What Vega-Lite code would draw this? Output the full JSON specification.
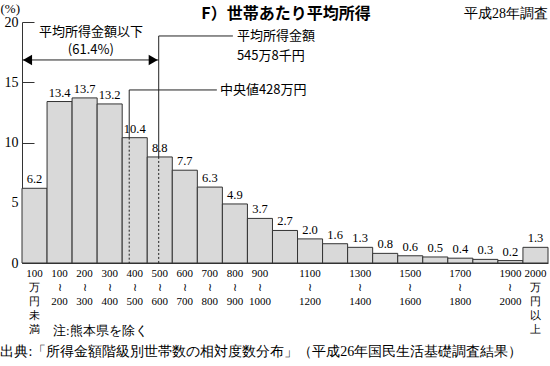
{
  "$schema": "https://vega.github.io/schema/vega-lite/v6.json",
  "width": 526,
  "height": 241,
  "autosize": {"type": "none"},
  "padding": {"left": 22, "top": 22, "right": 2, "bottom": 103},
  "background": "white",
  "config": {"view": {"stroke": null}, "text": {"lineBreak": "\n"}},
  "datasets": {
    "bars": [
      {"lo": 0, "hi": 100, "mid": 50, "v": 6.2, "lab": "100\n万\n円\n未\n満"},
      {"lo": 100, "hi": 200, "mid": 150, "v": 13.4, "lab": "100\n≀\n200"},
      {"lo": 200, "hi": 300, "mid": 250, "v": 13.7, "lab": "200\n≀\n300"},
      {"lo": 300, "hi": 400, "mid": 350, "v": 13.2, "lab": "300\n≀\n400"},
      {"lo": 400, "hi": 500, "mid": 450, "v": 10.4, "lab": "400\n≀\n500"},
      {"lo": 500, "hi": 600, "mid": 550, "v": 8.8, "lab": "500\n≀\n600"},
      {"lo": 600, "hi": 700, "mid": 650, "v": 7.7, "lab": "600\n≀\n700"},
      {"lo": 700, "hi": 800, "mid": 750, "v": 6.3, "lab": "700\n≀\n800"},
      {"lo": 800, "hi": 900, "mid": 850, "v": 4.9, "lab": "800\n≀\n900"},
      {"lo": 900, "hi": 1000, "mid": 950, "v": 3.7, "lab": "900\n≀\n1000"},
      {"lo": 1000, "hi": 1100, "mid": 1050, "v": 2.7, "lab": ""},
      {"lo": 1100, "hi": 1200, "mid": 1150, "v": 2.0, "lab": "1100\n≀\n1200"},
      {"lo": 1200, "hi": 1300, "mid": 1250, "v": 1.6, "lab": ""},
      {"lo": 1300, "hi": 1400, "mid": 1350, "v": 1.3, "lab": "1300\n≀\n1400"},
      {"lo": 1400, "hi": 1500, "mid": 1450, "v": 0.8, "lab": ""},
      {"lo": 1500, "hi": 1600, "mid": 1550, "v": 0.6, "lab": "1500\n≀\n1600"},
      {"lo": 1600, "hi": 1700, "mid": 1650, "v": 0.5, "lab": ""},
      {"lo": 1700, "hi": 1800, "mid": 1750, "v": 0.4, "lab": "1700\n≀\n1800"},
      {"lo": 1800, "hi": 1900, "mid": 1850, "v": 0.3, "lab": ""},
      {"lo": 1900, "hi": 2000, "mid": 1950, "v": 0.2, "lab": "1900\n≀\n2000"},
      {"lo": 2000, "hi": 2100, "mid": 2050, "v": 1.3, "lab": "2000\n万\n円\n以\n上"}
    ],
    "solid": [
      {"x": 545.8, "x2": 545.8, "y": 18.84, "y2": 8.8},
      {"x": 545.8, "x2": 842, "y": 18.84, "y2": 18.84},
      {"x": 428, "x2": 428, "y": 14.36, "y2": 10.4},
      {"x": 428, "x2": 778, "y": 14.36, "y2": 14.36},
      {"x": 0, "x2": 545.8, "y": 16.85, "y2": 16.85}
    ],
    "dashed": [
      {"x": 545.8, "x2": 545.8, "y": 8.8, "y2": 0},
      {"x": 428, "x2": 428, "y": 10.4, "y2": 0}
    ],
    "notesC": [
      {"x": 275, "y": 19.17, "t": "平均所得金額以下"},
      {"x": 275, "y": 17.69, "t": "(61.4%)"}
    ],
    "notesL": [
      {"x": 858, "y": 18.84, "t": "平均所得金額\n545万8千円"},
      {"x": 790, "y": 14.36, "t": "中央値428万円"}
    ],
    "one": [{}]
  },
  "layer": [
    {
      "data": {"name": "bars"},
      "mark": {"type": "rect", "fill": "#d9d9d9", "stroke": "#333", "strokeWidth": 1},
      "encoding": {
        "x": {"field": "lo", "type": "quantitative",
              "scale": {"domain": [0, 2100], "nice": false, "zero": false},
              "axis": {"labels": false, "ticks": false, "title": null, "grid": false, "domainColor": "#333"}},
        "x2": {"field": "hi"},
        "y": {"field": "v", "type": "quantitative",
              "scale": {"domain": [0, 20], "nice": false},
              "axis": {"values": [0, 5, 10, 15, 20], "grid": false, "title": "(%)",
                       "titleAngle": 0, "titleAlign": "left", "titleBaseline": "middle",
                       "titleX": -22, "titleY": -14, "titleFont": "Liberation Serif",
                       "titleFontSize": 13, "titleFontWeight": "normal", "titleColor": "black",
                       "labelFont": "Liberation Serif", "labelFontSize": 14, "labelColor": "black",
                       "tickSize": -12, "tickColor": "#333", "domainColor": "#333", "labelPadding": 16}},
        "y2": {"datum": 0}
      }
    },
    {
      "data": {"name": "bars"},
      "mark": {"type": "text", "baseline": "bottom", "dy": -2, "font": "Liberation Serif", "fontSize": 12.5, "color": "black"},
      "encoding": {
        "x": {"field": "mid", "type": "quantitative"},
        "y": {"field": "v", "type": "quantitative"},
        "text": {"field": "v", "type": "quantitative", "format": ".1f"}
      }
    },
    {
      "data": {"name": "bars"},
      "mark": {"type": "text", "baseline": "top", "lineHeight": 14, "font": "Liberation Serif", "fontSize": 11, "color": "black"},
      "encoding": {
        "x": {"field": "mid", "type": "quantitative"},
        "y": {"datum": -0.45},
        "text": {"field": "lab"}
      }
    },
    {
      "data": {"name": "solid"},
      "mark": {"type": "rule", "color": "#222", "strokeWidth": 1},
      "encoding": {
        "x": {"field": "x", "type": "quantitative"},
        "x2": {"field": "x2"},
        "y": {"field": "y", "type": "quantitative"},
        "y2": {"field": "y2"}
      }
    },
    {
      "data": {"name": "dashed"},
      "mark": {"type": "rule", "color": "#222", "strokeWidth": 1, "strokeDash": [2, 2]},
      "encoding": {
        "x": {"field": "x", "type": "quantitative"},
        "x2": {"field": "x2"},
        "y": {"field": "y", "type": "quantitative"},
        "y2": {"field": "y2"}
      }
    },
    {
      "data": {"name": "one"},
      "mark": {"type": "point", "shape": "triangle-left", "filled": true, "color": "black", "size": 110, "opacity": 1},
      "encoding": {"x": {"datum": 22}, "y": {"datum": 16.85}}
    },
    {
      "data": {"name": "one"},
      "mark": {"type": "point", "shape": "triangle-right", "filled": true, "color": "black", "size": 110, "opacity": 1},
      "encoding": {"x": {"datum": 523.8}, "y": {"datum": 16.85}}
    },
    {
      "data": {"name": "notesC"},
      "mark": {"type": "text", "align": "center", "baseline": "middle", "font": "Noto Sans CJK JP", "fontSize": 13, "color": "black"},
      "encoding": {
        "x": {"field": "x", "type": "quantitative"},
        "y": {"field": "y", "type": "quantitative"},
        "text": {"field": "t"}
      }
    },
    {
      "data": {"name": "notesL"},
      "mark": {"type": "text", "align": "left", "baseline": "middle", "lineHeight": 20, "font": "Noto Sans CJK JP", "fontSize": 13, "color": "black"},
      "encoding": {
        "x": {"field": "x", "type": "quantitative"},
        "y": {"field": "y", "type": "quantitative"},
        "text": {"field": "t"}
      }
    },
    {
      "data": {"name": "one"},
      "mark": {"type": "text", "align": "center", "baseline": "middle", "font": "Noto Sans CJK JP", "fontSize": 16, "fontWeight": "bold", "color": "black"},
      "encoding": {"x": {"datum": 1054}, "y": {"datum": 20.7}, "text": {"value": "F）世帯あたり平均所得"}}
    },
    {
      "data": {"name": "one"},
      "mark": {"type": "text", "align": "right", "baseline": "middle", "font": "Liberation Serif", "fontSize": 14, "color": "black"},
      "encoding": {"x": {"datum": 2100}, "y": {"datum": 20.7}, "text": {"value": "平成28年調査"}}
    },
    {
      "data": {"name": "one"},
      "mark": {"type": "text", "align": "left", "baseline": "middle", "font": "Liberation Serif", "fontSize": 13, "color": "black"},
      "encoding": {"x": {"datum": 124}, "y": {"datum": -5.64}, "text": {"value": "注:熊本県を除く"}}
    },
    {
      "data": {"name": "one"},
      "mark": {"type": "text", "align": "left", "baseline": "middle", "font": "Liberation Serif", "fontSize": 14, "color": "black"},
      "encoding": {"x": {"datum": -86}, "y": {"datum": -7.4}, "text": {"value": "出典:「所得金額階級別世帯数の相対度数分布」（平成26年国民生活基礎調査結果）"}}
    }
  ]
}
